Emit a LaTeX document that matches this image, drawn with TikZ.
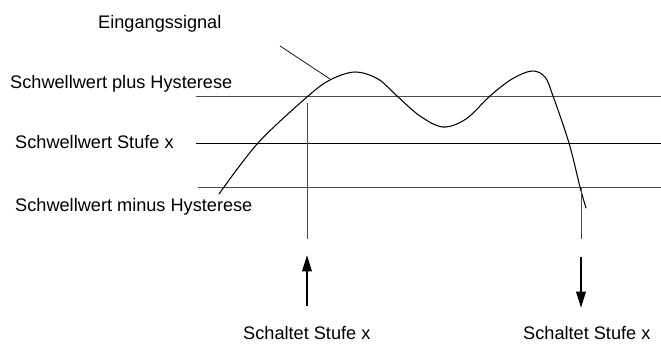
\documentclass[tikz,border=0pt]{standalone}
\usepackage{fontspec}
\setmainfont{Liberation Sans}
\usetikzlibrary{arrows.meta}
\begin{document}
\begin{tikzpicture}[x=0.03cm,y=-0.03cm,>={Triangle[length=14pt,width=8pt]},line join=round,
  txt/.style={anchor=base west,inner sep=0pt,font=\fontsize{15.5}{18}\selectfont},
  hilfslinie/.style={black!70,line width=0.6pt},
  pfeil/.style={->,line width=2pt}]
\useasboundingbox (0,0) rectangle (661,349);
% Beschriftungen
\node[txt] (sig) at (98,29) {Eingangssignal};
\node[txt] (plus) at (10,89) {Schwellwert plus Hysterese};
\node[txt] (stufe) at (15,149) {Schwellwert Stufe x};
\node[txt] (minus) at (15,212) {Schwellwert minus Hysterese};
\node[txt] (ein) at (243,340) {Schaltet Stufe x};
\node[txt] (aus) at (523,340) {Schaltet Stufe x};
% Schwellwerte
\coordinate (po1) at (196,96.5); \coordinate (po2) at (661,96.5);
\coordinate (mi1) at (196,143); \coordinate (mi2) at (661,143);
\coordinate (un1) at (198,187); \coordinate (un2) at (661,187);
\draw[hilfslinie] (po1)--(po2) (un1)--(un2);
\draw[line width=0.7pt] (mi1)--(mi2);
% Eingangssignal
\draw[line width=0.9pt,line cap=round] plot[smooth,tension=0.55] coordinates{(219,194) (258,143) (307,97) (330,80) (355,72) (378,79) (397,96) (420,116) (443,127) (466,119) (490,96) (512,79) (532,71) (545,77) (553,96) (569,143) (580,187) (586,208)};
\coordinate (l1) at (280,46); \coordinate (l2) at (330,79);
\draw[line width=0.6pt] (l1)--(l2);
% Schaltpunkte
\coordinate (s1) at (307,103); \coordinate (s2) at (307,239);
\coordinate (r1) at (581,187); \coordinate (r2) at (581,239);
\draw[hilfslinie] (s1)--(s2) (r1)--(r2);
\coordinate (a1) at (307,306); \coordinate (a2) at (307,255);
\coordinate (b1) at (581,257); \coordinate (b2) at (581,308);
\draw[pfeil] (a1)--(a2);
\draw[pfeil] (b1)--(b2);
\end{tikzpicture}
\end{document}
